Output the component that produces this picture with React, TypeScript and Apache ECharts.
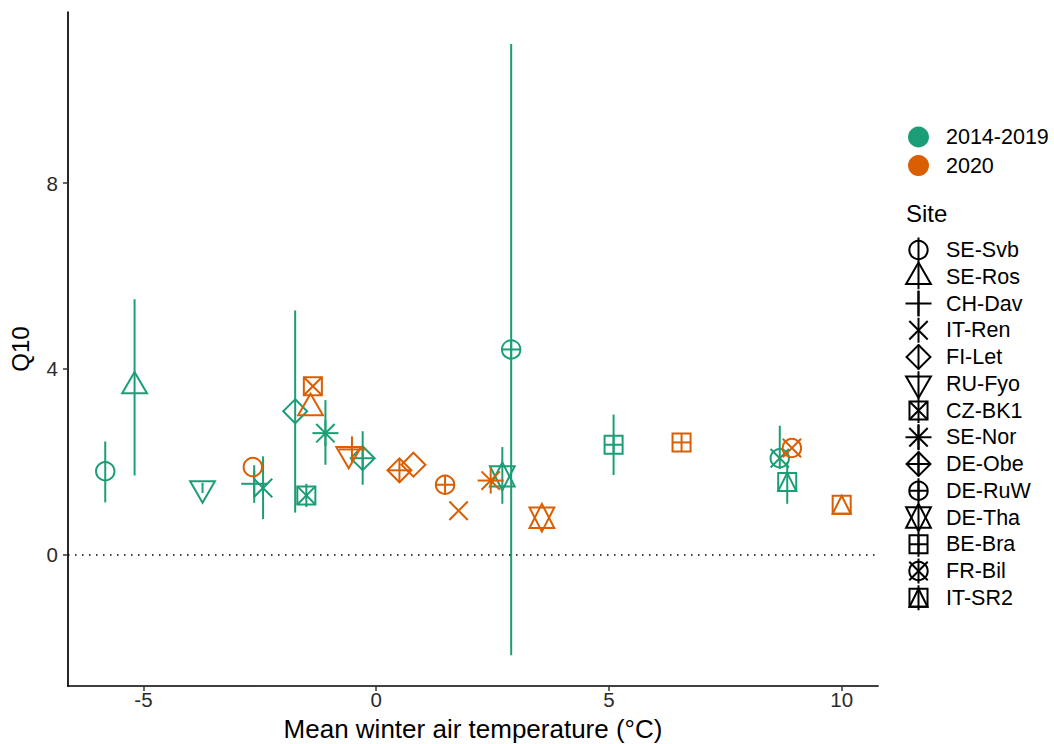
import React, { useEffect, useRef } from 'react';
import * as echarts from 'echarts';

// ---------- data ----------
const SITES = ['SE-Svb', 'SE-Ros', 'CH-Dav', 'IT-Ren', 'FI-Let', 'RU-Fyo', 'CZ-BK1', 'SE-Nor', 'DE-Obe', 'DE-RuW', 'DE-Tha', 'BE-Bra', 'FR-Bil', 'IT-SR2'];
const SITE_PCH = [1, 2, 3, 4, 5, 6, 7, 8, 9, 10, 11, 12, 13, 14];
const PERIODS = ['2014-2019', '2020'];

// 2014-2019 (per site, same order as SITES)
const P1_TEMP = [-5.82, -5.19, -2.62, -2.43, -1.74, -3.73, -1.5, -1.09, -0.29, 2.9, 2.71, 5.1, 8.67, 8.83];
const P1_Q10 = [1.8, 3.63, 1.53, 1.44, 3.09, 1.43, 1.28, 2.62, 2.08, 4.42, 1.69, 2.37, 2.08, 1.57];
const P1_LOW = [1.13, 1.71, 1.12, 0.77, 0.91, 1.33, 1.03, 1.94, 1.51, -2.16, 1.1, 1.72, 1.85, 1.1];
const P1_HIGH = [2.44, 5.5, 1.93, 2.12, 5.26, 1.55, 1.53, 3.33, 2.66, 10.99, 2.32, 3.02, 2.78, 2.0];

// 2020
const P2_TEMP = [-2.65, -1.41, -0.52, 1.77, 0.8, -0.59, -1.36, 2.46, 0.5, 1.48, 3.56, 6.56, 8.93, 10.0];
const P2_Q10 = [1.89, 3.16, 2.27, 0.95, 1.94, 2.17, 3.63, 1.6, 1.82, 1.51, 0.8, 2.42, 2.3, 1.08];

const X_TICKS = [-5, 0, 5, 10];
const Y_TICKS = [0, 4, 8];
const X_RANGE = [-6.62, 10.78];
const Y_RANGE = [-2.82, 11.68];

const COLORS = ['#1B9E77', '#D95F02'];
const FONT = '"Liberation Sans", Arial, Helvetica, sans-serif';

// ---------- shape helpers (R pch shapes) ----------
const R = 9.2;
function shapeEls(pch: number, cx: number, cy: number, color: string, lw: number): any[] {
  const st = { fill: 'none', stroke: color, lineWidth: lw };
  const line = (x1: number, y1: number, x2: number, y2: number) => ({ type: 'line', shape: { x1, y1, x2, y2 }, style: st });
  const circle = (r: number) => ({ type: 'circle', shape: { cx, cy, r }, style: st });
  const poly = (pts: number[][]) => ({ type: 'polygon', shape: { points: pts }, style: st });
  const rect = (h: number) => ({ type: 'rect', shape: { x: cx - h, y: cy - h, width: 2 * h, height: 2 * h }, style: st });
  const plus = (h: number) => [line(cx - h, cy, cx + h, cy), line(cx, cy - h, cx, cy + h)];
  const cross = (h: number) => [line(cx - h, cy - h, cx + h, cy + h), line(cx - h, cy + h, cx + h, cy - h)];
  const SQ = R * 0.98;
  const DM = R * 1.3;
  const tr = R * 1.5551;
  const tyc = R * 0.7776;
  const thw = R * 1.3468;
  const diamond = () => poly([[cx, cy - DM], [cx + DM, cy], [cx, cy + DM], [cx - DM, cy]]);
  switch (pch) {
    case 1: return [circle(R)];
    case 2: return [poly([[cx, cy - tr], [cx + thw, cy + tyc], [cx - thw, cy + tyc]])];
    case 3: return plus(R * 1.414);
    case 4: return cross(R);
    case 5: return [diamond()];
    case 6: return [poly([[cx, cy + tr], [cx + thw, cy - tyc], [cx - thw, cy - tyc]])];
    case 7: return [rect(SQ), ...cross(SQ)];
    case 8: return [...cross(R), ...plus(R * 1.414)];
    case 9: return [diamond(), ...plus(DM)];
    case 10: return [circle(R), ...plus(R)];
    case 11: {
      const y2 = 0.5 * (tyc + tr) * 0.95;
      const r2 = tr * 0.97;
      return [
        poly([[cx, cy - r2], [cx + thw, cy + y2], [cx - thw, cy + y2]]),
        poly([[cx, cy + r2], [cx + thw, cy - y2], [cx - thw, cy - y2]]),
      ];
    }
    case 12: return [rect(SQ), ...plus(SQ)];
    case 13: return [circle(R), ...cross(R)];
    case 14: return [rect(SQ), poly([[cx, cy - SQ], [cx + SQ, cy + SQ], [cx - SQ, cy + SQ]])];
    default: return [circle(R)];
  }
}

function makeSeries(name: string, color: string, xs: number[], ys: number[], lo: number[] | null, hi: number[] | null, withZero: boolean): any {
  const s: any = {
    name,
    type: 'custom',
    coordinateSystem: 'cartesian2d',
    itemStyle: { color },
    data: xs.map((x, i) => [x, ys[i], i]),
    encode: { x: 0, y: 1 },
    renderItem: (params: any, api: any) => {
      const i = params.dataIndex;
      const x = api.value(0);
      const y = api.value(1);
      const p = api.coord([x, y]);
      const children: any[] = [];
      if (lo && hi) {
        const a = api.coord([x, lo[i]]);
        const b = api.coord([x, hi[i]]);
        children.push({ type: 'line', shape: { x1: a[0], y1: a[1], x2: b[0], y2: b[1] }, style: { stroke: color, lineWidth: 2 } });
      }
      children.push(...shapeEls(SITE_PCH[api.value(2)], p[0], p[1], color, 2));
      return { type: 'group', children };
    },
  };
  if (withZero) {
    s.markLine = {
      silent: true,
      symbol: 'none',
      label: { show: false },
      lineStyle: { color: '#000', type: [1.5, 5.5], width: 1.6 },
      data: [{ yAxis: 0 }],
    };
  }
  return s;
}

function siteLegend(): any[] {
  const els: any[] = [];
  els.push({
    type: 'text', x: 906, y: 213,
    style: { text: 'Site', fontSize: 24, fontFamily: FONT, fill: '#000', verticalAlign: 'middle', align: 'left' },
  });
  SITES.forEach((site, i) => {
    const cy = 250 + i * 26.75;
    const cx = 918.5;
    els.push({ type: 'line', shape: { x1: cx, y1: cy - 12.5, x2: cx, y2: cy + 12.5 }, style: { stroke: '#000', lineWidth: 2 } });
    shapeEls(SITE_PCH[i], cx, cy, '#000', 2).forEach((e) => els.push(e));
    els.push({
      type: 'text', x: 946, y: cy,
      style: { text: site, fontSize: 21.5, fontFamily: FONT, fill: '#000', verticalAlign: 'middle', align: 'left' },
    });
  });
  return els;
}

export default function App() {
  const ref = useRef<HTMLDivElement>(null);
  useEffect(() => {
    document.body.style.margin = '0';
    if (!ref.current) return;
    const chart = echarts.init(ref.current, undefined, { renderer: 'svg' });
    const option: any = {
      animation: false,
      backgroundColor: '#fff',
      textStyle: { fontFamily: FONT },
      grid: { left: 68, right: 176, top: 12, bottom: 58, containLabel: false, outerBoundsMode: 'none' },
      xAxis: {
        type: 'value',
        min: X_RANGE[0],
        max: X_RANGE[1],
        splitLine: { show: false },
        axisLine: { show: true, onZero: false, lineStyle: { color: '#000', width: 1.7 } },
        axisTick: { show: true, length: 5, customValues: X_TICKS, lineStyle: { color: '#333', width: 1.5 } },
        axisLabel: { customValues: X_TICKS, fontSize: 20.5, color: '#2b2b2b', margin: 3, fontFamily: FONT },
        name: 'Mean winter air temperature (°C)',
        nameLocation: 'middle',
        nameGap: 30,
        nameTextStyle: { fontSize: 26, lineHeight: 26, color: '#000', fontFamily: FONT },
      },
      yAxis: {
        type: 'value',
        min: Y_RANGE[0],
        max: Y_RANGE[1],
        splitLine: { show: false },
        axisLine: { show: true, onZero: false, lineStyle: { color: '#000', width: 1.7 } },
        axisTick: { show: true, length: 5, customValues: Y_TICKS, lineStyle: { color: '#333', width: 1.5 } },
        axisLabel: { customValues: Y_TICKS, fontSize: 20.5, color: '#2b2b2b', margin: 10, fontFamily: FONT },
        name: 'Q10',
        nameLocation: 'middle',
        nameGap: 36,
        nameTextStyle: { fontSize: 24, color: '#000', fontFamily: FONT },
      },
      legend: {
        orient: 'vertical',
        left: 908,
        top: 126,
        padding: 0,
        itemWidth: 21,
        itemHeight: 21,
        itemGap: 6.6,
        icon: 'circle',
        selectedMode: false,
        textStyle: { fontSize: 21.5, color: '#000', fontFamily: FONT, padding: [0, 0, 0, 12] },
        data: PERIODS,
      },
      graphic: { elements: siteLegend() },
      series: [
        makeSeries(PERIODS[0], COLORS[0], P1_TEMP, P1_Q10, P1_LOW, P1_HIGH, true),
        makeSeries(PERIODS[1], COLORS[1], P2_TEMP, P2_Q10, null, null, false),
      ],
    };
    chart.setOption(option);
    return () => chart.dispose();
  }, []);
  return <div ref={ref} style={{ width: 1054, height: 744 }} />;
}
